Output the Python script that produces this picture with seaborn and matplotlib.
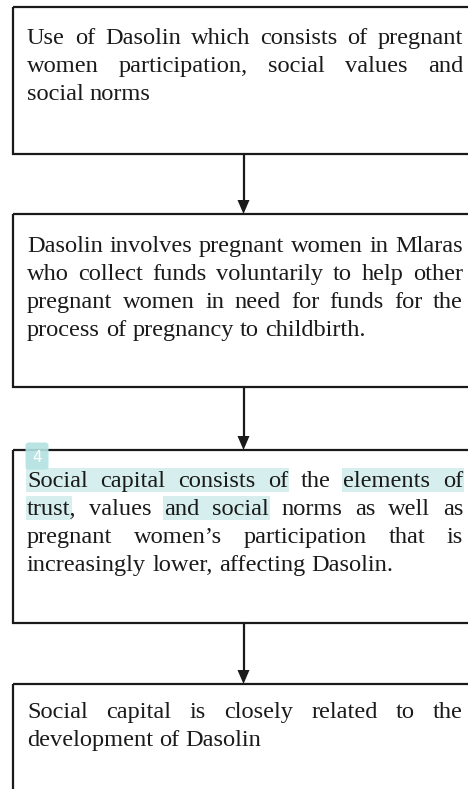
import matplotlib
matplotlib.use("Agg")
import matplotlib.pyplot as plt
import seaborn as sns
from matplotlib.patches import Rectangle, FancyBboxPatch, Polygon

# flowchart content, one list of lines per box
box_lines = [
    ["Use of Dasolin which consists of pregnant",
     "women participation, social values and",
     "social norms"],
    ["Dasolin involves pregnant women in Mlaras",
     "who collect funds voluntarily to help other",
     "pregnant women in need for funds for the",
     "process of pregnancy to childbirth."],
    ["Social capital consists of the elements of",
     "trust, values and social norms as well as",
     "pregnant women\u2019s participation that is",
     "increasingly lower, affecting Dasolin."],
    ["Social capital is closely related to the",
     "development of Dasolin"],
]
box_tops = [7, 214, 450, 684]
box_bottoms = [154, 387, 623, 800]
first_baselines = [44, 252, 487, 718]

# highlighted word runs in box 3: (line, first word, last word)
highlights = [(0, 0, 3), (0, 5, 6), (1, 0, 0), (1, 2, 3)]
badge_label = "4"

sns.set_theme(style="white")
plt.rcParams["font.family"] = ["Liberation Serif", "DejaVu Serif"]

W, H = 468, 789
fig = plt.figure(figsize=(W / 100, H / 100), dpi=100)
ax = fig.add_axes([0, 0, 1, 1])
ax.set_xlim(0, W)
ax.set_ylim(H, 0)
ax.axis("off")
fig.canvas.draw()
renderer = fig.canvas.get_renderer()

left, right = 12.5, 480
text_left, text_right = 27, 463
line_gap = 28
fs = 17.6
arrow_x = 243.5


def word_width(w):
    t = ax.text(0, 0, w, fontsize=fs)
    bb = t.get_window_extent(renderer)
    t.remove()
    return bb.width


def place_line(words, y, justify):
    widths = [word_width(w) for w in words]
    space = word_width("a b") - word_width("ab")
    if justify and len(words) > 1:
        space = (text_right - text_left - sum(widths)) / (len(words) - 1)
    xs = []
    x = text_left
    for w, wd in zip(words, widths):
        ax.text(x, y, w, fontsize=fs, color="#1a1a1a", va="baseline", ha="left", zorder=3)
        xs.append((x, wd))
        x += wd + space
    return xs


for i, lines in enumerate(box_lines):
    ax.add_patch(Rectangle((left, box_tops[i]), right - left, box_bottoms[i] - box_tops[i],
                           fill=False, edgecolor="#1a1a1a", linewidth=1.6, zorder=2))
    for j, line in enumerate(lines):
        y = first_baselines[i] + j * line_gap
        words = line.split(" ")
        xs = place_line(words, y, justify=(j < len(lines) - 1))
        if i == 2:
            for (hl, a, b) in highlights:
                if hl != j:
                    continue
                x0 = xs[a][0] - 1
                last = words[b].rstrip(",.")
                x1 = xs[b][0] + word_width(last) + 1
                ax.add_patch(Rectangle((x0, y - 19), x1 - x0, 24, facecolor="#d6efee",
                                       edgecolor="none", zorder=1))

# arrows between boxes
for i in range(len(box_lines) - 1):
    y0, y1 = box_bottoms[i], box_tops[i + 1]
    ax.plot([arrow_x, arrow_x], [y0, y1 - 12], color="#1a1a1a", linewidth=1.6, zorder=2)
    ax.add_patch(Polygon([[arrow_x - 6, y1 - 14], [arrow_x + 6, y1 - 14], [arrow_x, y1]],
                         closed=True, facecolor="#1a1a1a", edgecolor="none", zorder=2))

# page badge
ax.add_patch(FancyBboxPatch((27, 444), 20, 24, boxstyle="round,pad=1.5,rounding_size=3",
                            facecolor="#b3e2e2", edgecolor="none", alpha=0.9, zorder=4))
ax.text(37, 457, badge_label, fontsize=11, color="white", ha="center", va="center",
        family=["DejaVu Sans"], zorder=5)

fig.savefig("out.png", dpi=100)
